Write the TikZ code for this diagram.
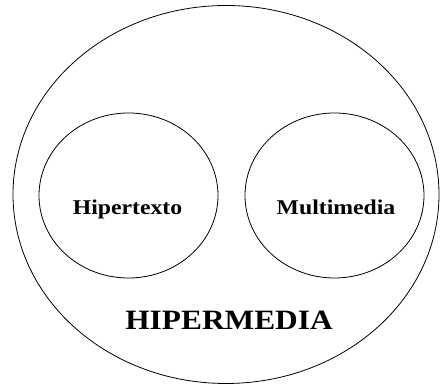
\documentclass[tikz,border=0pt]{standalone}
\usepackage{fontspec}
\setmainfont{Liberation Serif}
\begin{document}
\begin{tikzpicture}[x=1pt,y=1pt,
  ring/.style={draw=black,line width=0.8pt},
  lbl/.style={font=\fontsize{21}{24}\selectfont\bfseries,inner sep=0pt},
  biglbl/.style={font=\fontsize{28}{31}\selectfont\bfseries,inner sep=0pt}]
\useasboundingbox (0,0) rectangle (440,385);
\draw[ring] (226,190.5) ellipse [x radius=213, y radius=189];
\draw[ring] (128.5,189.5) ellipse [x radius=89.5, y radius=82.5];
\draw[ring] (334.5,189.5) ellipse [x radius=89.5, y radius=82.5];
\node[lbl,anchor=base] (hip) at (127.5,170) {\scalebox{1.13}[1]{Hipertexto}};
\node[lbl,anchor=base] (mul) at (336,170) {\scalebox{1.13}[1]{Multimedia}};
\node[biglbl,anchor=base] (hm) at (229,55) {\scalebox{1.12}[1]{HIPERMEDIA}};
\end{tikzpicture}
\end{document}
